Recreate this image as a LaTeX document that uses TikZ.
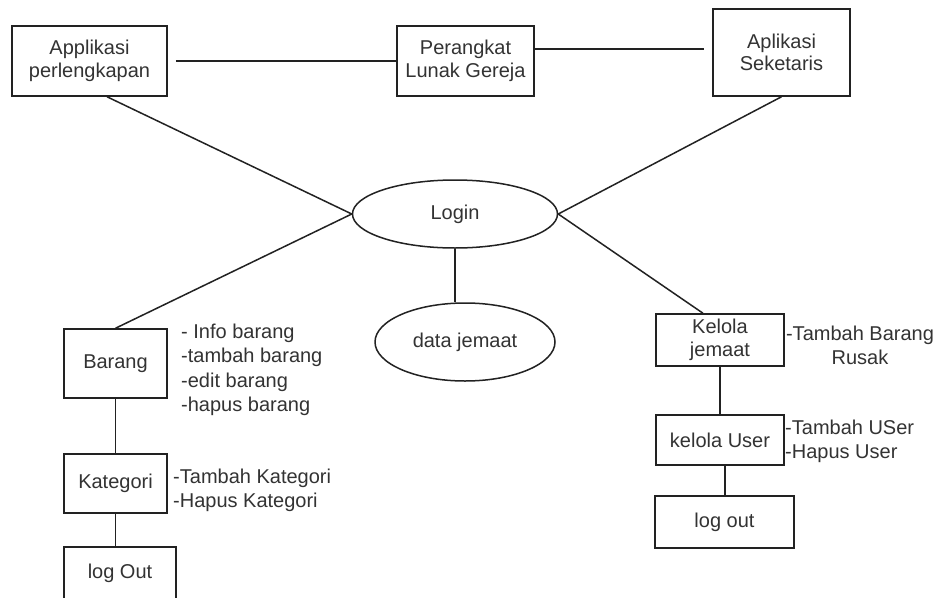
\documentclass[tikz,border=0pt]{standalone}
\usepackage{fontspec}
\setmainfont{Liberation Sans}
\usetikzlibrary{shapes.geometric}
\definecolor{txt}{HTML}{333333}
\definecolor{ln}{HTML}{222222}
\begin{document}
\begin{tikzpicture}[x=1pt,y=-1pt,
  every node/.style={font=\fontsize{20}{22.5}\selectfont, text=txt, inner sep=0pt},
  box/.style={draw=ln, line width=1.5pt, rectangle, align=center},
  oval/.style={draw=ln, line width=1.5pt, ellipse, align=center},
  conn/.style={draw=ln, line width=1.5pt},
  lbl/.style={align=left, anchor=north west, font=\fontsize{20}{24.2}\selectfont}
]
\clip (0,0) rectangle (941,597);
\fill[white] (0,0) rectangle (941,597);

\node[box, minimum width=155pt, minimum height=70pt] (app) at (89.5,61) {Applikasi\\perlengkapan};
\node[box, minimum width=137pt, minimum height=70pt] (pl) at (465.5,61) {Perangkat\\Lunak Gereja};
\node[box, minimum width=137pt, minimum height=87pt] (sek) at (781.5,52.5) {Aplikasi\\Seketaris};

\node[oval, minimum width=205pt, minimum height=68pt] (login) at (455,214) {Login};
\node[oval, minimum width=180pt, minimum height=78pt] (dj) at (465,342) {data jemaat};

\node[box, minimum width=103pt, minimum height=69pt] (bar) at (115.5,363.5) {Barang};
\node[box, minimum width=103pt, minimum height=59pt] (kat) at (115.5,483.5) {Kategori};
\node[box, minimum width=112pt, minimum height=52pt] (lo1) at (120,573) {log Out};

\node[box, minimum width=128pt, minimum height=52pt] (kj) at (720,340) {Kelola\\jemaat};
\node[box, minimum width=128pt, minimum height=50pt] (ku) at (720,440) {kelola User};
\node[box, minimum width=139pt, minimum height=52pt] (lo2) at (724.5,522) {log out};

% labels
\node[lbl] (lb1) at (181,324) {- Info barang\\-tambah barang\\-edit barang\\-hapus barang};
\node[lbl] (lb2) at (173,469) {-Tambah Kategori\\-Hapus Kategori};
\node[align=center, font=\fontsize{20}{24}\selectfont] (lb3) at (860,345) {-Tambah Barang\\Rusak};
\node[lbl] (lb4) at (785,420) {-Tambah USer\\-Hapus User};

% connectors
\draw[conn, shorten <=8pt] (app.east) -- (pl.west);
\draw[conn, shorten >=8pt] (pl.east |- 0,49) -- (sek.west |- 0,49);
\draw[conn] ([xshift=17.5pt]app.south) -- (login.west);
\draw[conn] (sek.south) -- (login.east);
\draw[conn] (login.west) -- (bar.north);
\draw[conn] (login.east) -- ([xshift=-17pt]kj.north);
\draw[conn] (login.south) -- (login.south |- dj.north);
\draw[conn] (bar.south) -- (kat.north);
\draw[conn] (kat.south) -- (kat.south |- lo1.north);
\draw[conn] (kj.south) -- (ku.north);
\draw[conn] ([xshift=5pt]ku.south) -- ([xshift=5pt]ku.south |- lo2.north);
\end{tikzpicture}
\end{document}
